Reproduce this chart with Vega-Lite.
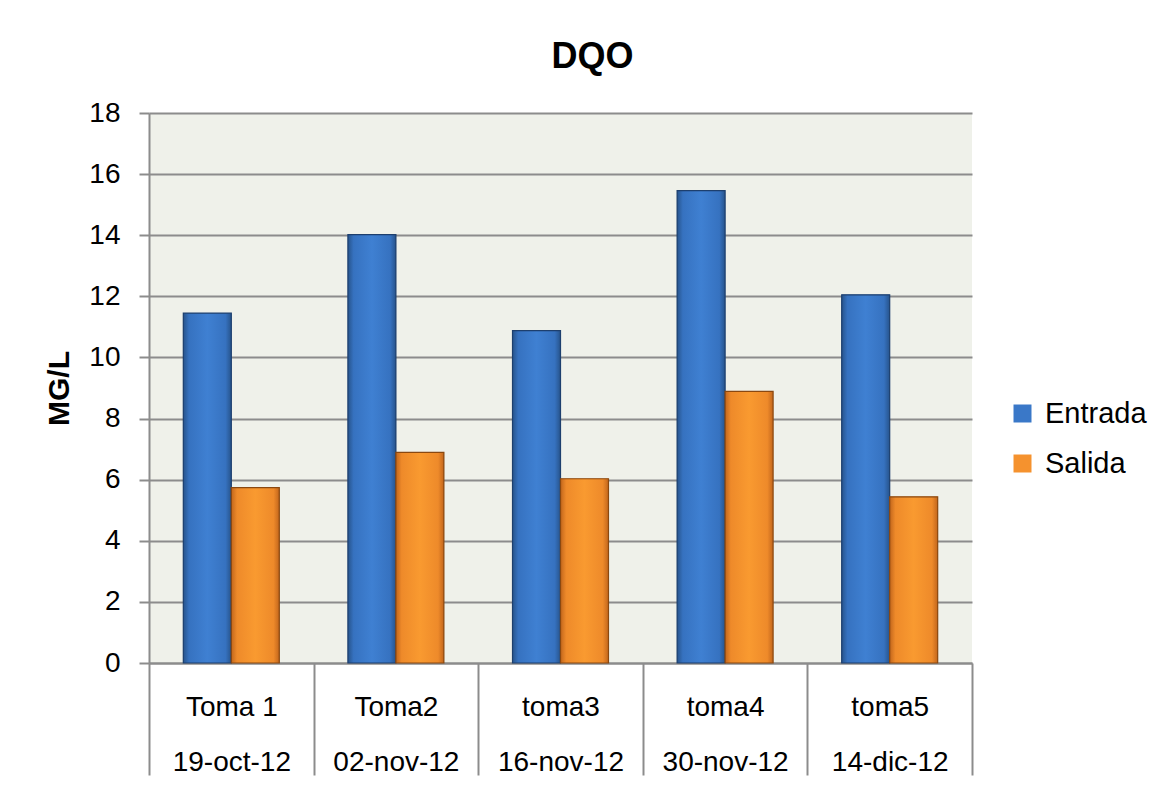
{
  "$schema": "https://vega.github.io/schema/vega-lite/v6.json",
  "width": 823,
  "height": 550,
  "autosize": {"type": "none"},
  "padding": {"left": 149, "top": 113, "right": 194, "bottom": 123},
  "background": "white",
  "title": {
    "text": "DQO",
    "font": "Liberation Sans",
    "fontSize": 36,
    "fontWeight": "bold",
    "color": "black",
    "anchor": "middle",
    "dx": 32,
    "offset": 23
  },
  "data": {
    "values": [
      {"toma": "Toma 1", "fecha": "19-oct-12", "serie": "Entrada", "valor": 11.45},
      {"toma": "Toma 1", "fecha": "19-oct-12", "serie": "Salida", "valor": 5.74},
      {"toma": "Toma2", "fecha": "02-nov-12", "serie": "Entrada", "valor": 14.02},
      {"toma": "Toma2", "fecha": "02-nov-12", "serie": "Salida", "valor": 6.89},
      {"toma": "toma3", "fecha": "16-nov-12", "serie": "Entrada", "valor": 10.88},
      {"toma": "toma3", "fecha": "16-nov-12", "serie": "Salida", "valor": 6.03},
      {"toma": "toma4", "fecha": "30-nov-12", "serie": "Entrada", "valor": 15.46},
      {"toma": "toma4", "fecha": "30-nov-12", "serie": "Salida", "valor": 8.89},
      {"toma": "toma5", "fecha": "14-dic-12", "serie": "Entrada", "valor": 12.05},
      {"toma": "toma5", "fecha": "14-dic-12", "serie": "Salida", "valor": 5.44}
    ]
  },
  "encoding": {
    "x": {
      "field": "toma",
      "type": "nominal",
      "sort": null,
      "scale": {"paddingInner": 0, "paddingOuter": 0},
      "axis": {
        "title": null,
        "labelAngle": 0,
        "labelFont": "Liberation Sans",
        "labelFontSize": 28,
        "labelColor": "black",
        "labelBaseline": "top",
        "labelLineHeight": 55,
        "labelPadding": -82,
        "labelExpr": "[datum.label, {'Toma 1':'19-oct-12','Toma2':'02-nov-12','toma3':'16-nov-12','toma4':'30-nov-12','toma5':'14-dic-12'}[datum.value]]",
        "tickBand": "extent",
        "tickSize": 112,
        "tickColor": "#8c8c8c",
        "tickWidth": 2,
        "domainColor": "#8c8c8c",
        "domainWidth": 2
      }
    },
    "xOffset": {"field": "serie", "type": "nominal", "scale": {"paddingOuter": 0.715, "paddingInner": 0}},
    "y": {
      "field": "valor",
      "type": "quantitative",
      "scale": {"domain": [0, 18]},
      "axis": {
        "title": "MG/L",
        "titleFont": "Liberation Sans",
        "titleFontSize": 30,
        "titleFontWeight": "bold",
        "titleColor": "black",
        "titlePadding": 14,
        "values": [0, 2, 4, 6, 8, 10, 12, 14, 16, 18],
        "labelFont": "Liberation Sans",
        "labelFontSize": 28,
        "labelColor": "black",
        "labelPadding": 19,
        "tickSize": 10,
        "tickColor": "#8c8c8c",
        "tickWidth": 2,
        "domainColor": "#8c8c8c",
        "domainWidth": 2,
        "gridColor": "#8c8c8c",
        "gridWidth": 2
      }
    }
  },
  "layer": [
    {
      "mark": {"type": "bar", "strokeWidth": 1},
      "encoding": {
        "color": {
          "field": "serie",
          "type": "nominal",
          "scale": {"domain": ["Entrada", "Salida"], "range": ["#3a78c8", "#f5922e"]},
          "legend": {
            "title": null,
            "orient": "none",
            "legendX": 859,
            "legendY": 286,
            "labelFont": "Liberation Sans",
            "labelFontSize": 29,
            "labelColor": "black",
            "symbolType": "square",
            "symbolSize": 324,
            "symbolStrokeWidth": 0,
            "rowPadding": 20,
            "labelOffset": 8
          }
        }
      }
    },
    {
      "mark": {"type": "bar", "strokeWidth": 1.2},
      "encoding": {
        "fill": {
          "condition": {
            "test": "datum.serie === 'Entrada'",
            "value": {
              "gradient": "linear", "x1": 0, "x2": 1, "y1": 0, "y2": 0,
              "stops": [
                {"offset": 0, "color": "#27548c"},
                {"offset": 0.12, "color": "#3672c0"},
                {"offset": 0.5, "color": "#3f80d2"},
                {"offset": 0.88, "color": "#3672c0"},
                {"offset": 1, "color": "#27548c"}
              ]
            }
          },
          "value": {
            "gradient": "linear", "x1": 0, "x2": 1, "y1": 0, "y2": 0,
            "stops": [
              {"offset": 0, "color": "#c2661c"},
              {"offset": 0.12, "color": "#ee8a2a"},
              {"offset": 0.5, "color": "#f99a30"},
              {"offset": 0.88, "color": "#ee8a2a"},
              {"offset": 1, "color": "#c2661c"}
            ]
          }
        },
        "stroke": {
          "condition": {"test": "datum.serie === 'Entrada'", "value": "#1d3f6e"},
          "value": "#8a4810"
        }
      }
    }
  ],
  "config": {
    "view": {"fill": "#eff1ea", "stroke": null},
    "axis": {"labelFont": "Liberation Sans"}
  }
}
